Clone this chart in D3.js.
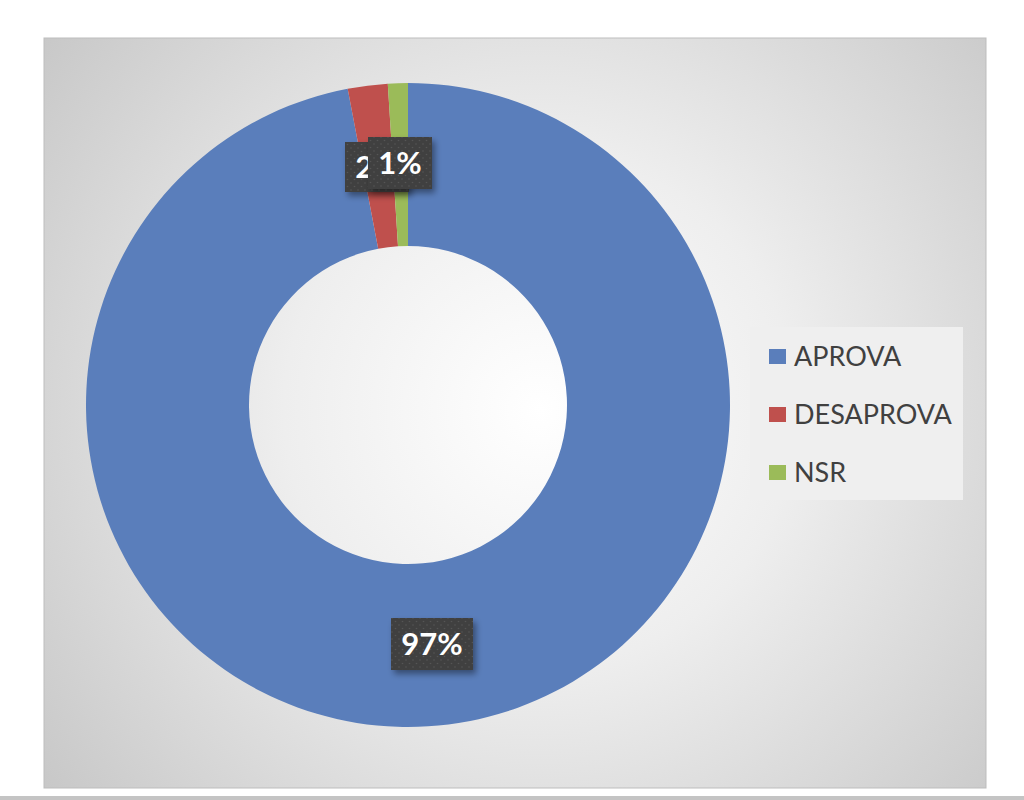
<!DOCTYPE html>
<html><head><meta charset="utf-8">
<script src="https://cdn.jsdelivr.net/npm/d3@7"></script>
<style>html,body{margin:0;padding:0;background:#fff;}svg{display:block;}</style>
</head><body>
<script>
const categories = ["APROVA", "DESAPROVA", "NSR"];
const values = [97, 2, 1];
const labels = ["97%", "2%", "1%"];
const colors = ["#5a7ebb", "#bf504d", "#9bbb59"];

const W = 1024, H = 800;
const svg = d3.select("body").append("svg").attr("width", W).attr("height", H);
const defs = svg.append("defs");

const rg = defs.append("radialGradient").attr("id", "bg")
  .attr("gradientUnits", "userSpaceOnUse").attr("cx", 540).attr("cy", 410).attr("r", 640);
rg.append("stop").attr("offset", "0").attr("stop-color", "#ffffff");
rg.append("stop").attr("offset", "0.4").attr("stop-color", "#eeeeee");
rg.append("stop").attr("offset", "1").attr("stop-color", "#c6c6c6");

const pat = defs.append("pattern").attr("id", "dots").attr("patternUnits", "userSpaceOnUse")
  .attr("width", 7).attr("height", 7);
pat.append("rect").attr("width", 7).attr("height", 7).attr("fill", "#3f3f3f");
pat.append("circle").attr("cx", 2).attr("cy", 2).attr("r", 0.8).attr("fill", "#585858");
pat.append("circle").attr("cx", 5.5).attr("cy", 5.5).attr("r", 0.8).attr("fill", "#555555");

const sh = defs.append("filter").attr("id", "shadow").attr("x", "-20%").attr("y", "-20%").attr("width", "150%").attr("height", "150%");
sh.append("feDropShadow").attr("dx", 3).attr("dy", 4).attr("stdDeviation", 3).attr("flood-color", "#000").attr("flood-opacity", 0.4);

// page bottom line
svg.append("rect").attr("x", 0).attr("y", 796).attr("width", W).attr("height", 4).attr("fill", "#c4c4c4");

// chart panel
svg.append("rect").attr("x", 44).attr("y", 38).attr("width", 942).attr("height", 750)
  .attr("fill", "url(#bg)").attr("stroke", "#bdbdbd").attr("stroke-width", 1);

const cx = 408, cy = 405, rOuter = 322, rInner = 159;
const pie = d3.pie().sort(null).value(d => d)(values);
const arc = d3.arc().innerRadius(rInner).outerRadius(rOuter);

const g = svg.append("g").attr("transform", `translate(${cx},${cy})`);
g.selectAll("path.slice").data(pie).join("path").attr("class", "slice")
  .attr("d", arc).attr("fill", (d, i) => colors[i]);

// data labels (drawn in order so 1% overlaps 2%, as in the reference)
const labelPos = [
  {x: 432, y: 644, w: 82, h: 52},
  {x: 377, y: 167, w: 64, h: 50},
  {x: 400, y: 163, w: 64, h: 52}
];
const lab = svg.append("g");
pie.forEach((d, i) => {
  const p = labelPos[i];
  const lg = lab.append("g").attr("transform", `translate(${p.x},${p.y})`);
  lg.append("rect").attr("x", -p.w / 2).attr("y", -p.h / 2).attr("width", p.w).attr("height", p.h)
    .attr("fill", "url(#dots)").attr("filter", "url(#shadow)");
  lg.append("text").attr("text-anchor", "middle").attr("dy", "0.36em")
    .attr("font-family", "Lato, 'Open Sans', sans-serif").attr("font-weight", "bold")
    .attr("font-size", 31).attr("fill", "#ffffff").text(labels[i]);
});

// legend
const leg = svg.append("g");
leg.append("rect").attr("x", 750).attr("y", 327).attr("width", 213).attr("height", 173).attr("fill", "#efefef");
const legY = d3.scalePoint().domain(categories).range([356, 472]);
categories.forEach((c, i) => {
  const y = legY(c);
  leg.append("rect").attr("x", 769).attr("y", y - 7).attr("width", 17).attr("height", 15).attr("fill", colors[i]);
  leg.append("text").attr("x", 794).attr("y", y).attr("dy", "0.36em")
    .attr("font-family", "Lato, 'Open Sans', sans-serif").attr("font-size", 27)
    .attr("fill", "#404040").text(c);
});
</script>
</body></html>
